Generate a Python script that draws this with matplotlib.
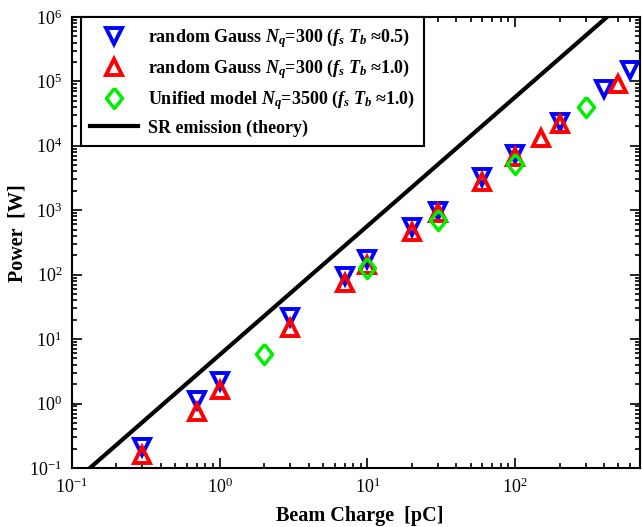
import matplotlib
matplotlib.use("Agg")
import matplotlib.pyplot as plt
from matplotlib.ticker import LogLocator, NullFormatter

# fonts: Times-like serif, bold italic for the math parts of the legend
plt.rcParams['font.family'] = 'Liberation Serif'
plt.rcParams['mathtext.fontset'] = 'custom'
plt.rcParams['mathtext.rm'] = 'Liberation Serif'
plt.rcParams['mathtext.it'] = 'Liberation Serif:italic:bold'
plt.rcParams['mathtext.bf'] = 'Liberation Serif:bold'

# --- data ---
q_blue = [0.3, 0.7, 1.0, 3, 7, 10, 20, 30, 60, 100, 200, 400, 600]
p_blue = [0.21, 1.14, 2.2, 22, 96, 176, 550, 980, 3300, 7500, 23600, 77000, 151000]

q_red = [0.3, 0.7, 1.0, 3, 7, 10, 20, 30, 60, 100, 150, 200, 500]
p_red = [0.16, 0.74, 1.6, 15, 75, 140, 460, 900, 2700, 6800, 13000, 21500, 90000]

q_green = [2, 10, 30, 100, 300]
p_green = [5.8, 128, 700, 5300, 40000]

# SR theory line (P ~ Q^2), two end points
q_theory = [0.1, 1000]
p_theory = [0.057, 5.7e6]

# diamond a bit narrower than tall
diamond = [(0, 1), (0.8, 0), (0, -1), (-0.8, 0), (0, 1)]

fig = plt.figure(figsize=(6.42, 5.27), dpi=100)
ax = fig.add_axes([0.112, 0.112, 0.885, 0.856])

ax.plot(q_blue, p_blue, linestyle='none', marker='v', markersize=12,
        markeredgewidth=2.8, markeredgecolor='#0000ff', markerfacecolor='none',
        label=r'random Gauss $N_q$=300 ($f_s$ $T_b$ ≈0.5)')
ax.plot(q_red, p_red, linestyle='none', marker='^', markersize=12,
        markeredgewidth=2.8, markeredgecolor='#ff0000', markerfacecolor='none',
        label=r'random Gauss $N_q$=300 ($f_s$ $T_b$ ≈1.0)')
ax.plot(q_green, p_green, linestyle='none', marker=diamond, markersize=14.5,
        markeredgewidth=2.5, markeredgecolor='#00ee00', markerfacecolor='none',
        label=r'Unified model $N_q$=3500 ($f_s$ $T_b$ ≈1.0)')
ax.plot(q_theory, p_theory, color='black', linewidth=3,
        label='SR emission (theory)')

ax.set_xscale('log')
ax.set_yscale('log')
ax.set_xlim(0.1, 700)
ax.set_ylim(0.1, 1e6)

ax.xaxis.set_major_locator(LogLocator(base=10, numticks=10))
ax.yaxis.set_major_locator(LogLocator(base=10, numticks=10))
ax.xaxis.set_minor_locator(LogLocator(base=10, subs=range(2, 10), numticks=20))
ax.yaxis.set_minor_locator(LogLocator(base=10, subs=range(2, 10), numticks=20))
ax.xaxis.set_minor_formatter(NullFormatter())
ax.yaxis.set_minor_formatter(NullFormatter())

ax.tick_params(which='both', direction='in', top=True, right=True,
               labelsize=13, width=1.2)
ax.tick_params(which='major', length=7, pad=7)
ax.tick_params(which='minor', length=3.5)
for s in ax.spines.values():
    s.set_linewidth(1.5)

ax.set_xlabel('Beam Charge  [pC]', fontsize=14.5, fontweight='bold', labelpad=2)
ax.set_ylabel('Power  [W]', fontsize=14.5, fontweight='bold', labelpad=4)
ax.xaxis.set_label_coords(0.507, -0.085)
ax.yaxis.set_label_coords(-0.078, 0.52)

leg = ax.legend(loc='upper left', bbox_to_anchor=(0.016, 1.0), borderaxespad=0,
                fancybox=False, framealpha=1, edgecolor='black',
                handlelength=2.65, handletextpad=0.55, borderpad=0.5,
                labelspacing=0.4,
                prop={'family': 'Liberation Serif', 'weight': 'bold', 'size': 13})
leg.get_frame().set_linewidth(1.5)

fig.savefig('out.png', dpi=100)
